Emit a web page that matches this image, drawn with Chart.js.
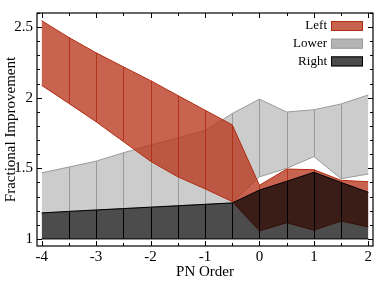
<!DOCTYPE html>
<html>
<head>
<meta charset="utf-8">
<script src="https://cdn.jsdelivr.net/npm/chart.js@4.4.0/dist/chart.umd.min.js"></script>
<style>
  html, body { margin: 0; padding: 0; background: #fff; }
</style>
</head>
<body>
<canvas id="c" width="378" height="299"></canvas>
<script>
// PN order on the x axis
var pnOrder = [-4, -3.5, -3, -2.5, -2, -1.5, -1, -0.5, 0, 0.5, 1, 1.5, 2];

// "Left" band (red)
var leftUpper = [2.546, 2.427, 2.318, 2.219, 2.121, 2.016, 1.912, 1.808, 1.38, 1.495, 1.49, 1.415, 1.405];
var leftLower = [2.088, 1.96, 1.83, 1.69, 1.55, 1.44, 1.355, 1.265, 1.057, 1.115, 1.062, 1.127, 1.085];

// "Lower" band (light grey)
var lowerUpper = [1.468, 1.509, 1.551, 1.61, 1.665, 1.714, 1.768, 1.888, 1.99, 1.899, 1.915, 1.956, 2.02];
var lowerLower = [1.184, 1.195, 1.205, 1.215, 1.225, 1.235, 1.245, 1.255, 1.44, 1.5, 1.583, 1.426, 1.46];

// "Right" band (dark)
var rightUpper = [1.184, 1.195, 1.205, 1.215, 1.225, 1.235, 1.245, 1.255, 1.346, 1.408, 1.472, 1.4, 1.33];
var rightLower = [1, 1, 1, 1, 1, 1, 1, 1, 1, 1, 1, 1, 1];

var xTicks = [-4, -3, -2, -1, 0, 1, 2];
var yTicks = [1, 1.5, 2, 2.5];
var legendNames = ['Left', 'Lower', 'Right'];

var FONT = 'Liberation Serif';

function pts(arr) {
  return pnOrder.map(function (x, i) { return { x: x, y: arr[i] }; });
}

function band(lo, hi, fillColor, edgeColor, vColor, orderBase) {
  return [
    { data: pts(lo), borderColor: edgeColor, borderWidth: 1, pointRadius: 0, fill: false, order: orderBase },
    { data: pts(hi), borderColor: edgeColor, borderWidth: 1, pointRadius: 0, fill: '-1',
      backgroundColor: fillColor, order: orderBase + 1, vline: vColor }
  ];
}

var redFill = 'rgba(182,50,24,0.76)';
var redEdge = 'rgb(178,44,18)';
var greyFill = '#cccccc';
var greyEdge = '#9a9a9a';
var darkFill = 'rgba(0,0,0,0.70)';
var darkEdge = '#000000';

var datasets = []
  .concat(band(rightLower, rightUpper, darkFill, darkEdge, '#000', 0))
  .concat(band(leftLower, leftUpper, redFill, redEdge, 'rgba(178,44,18,0.85)', 2))
  .concat(band(lowerLower, lowerUpper, greyFill, greyEdge, '#9a9a9a', 4));

// vertical lines joining lower and upper edge of each band
var bandLines = {
  id: 'bandLines',
  afterDatasetDraw: function (chart, args) {
    var ds = chart.data.datasets[args.index];
    if (!ds.vline) return;
    var hi = args.meta.data;
    var lo = chart.getDatasetMeta(args.index - 1).data;
    var ctx = chart.ctx;
    ctx.save();
    ctx.strokeStyle = ds.vline;
    ctx.lineWidth = 1;
    for (var i = 1; i < hi.length - 1; i++) {
      var x = Math.round(hi[i].x) + 0.5;
      ctx.beginPath();
      ctx.moveTo(x, hi[i].y);
      ctx.lineTo(x, lo[i].y);
      ctx.stroke();
    }
    ctx.restore();
  }
};

// frame, inward ticks and the legend
var frame = {
  id: 'frame',
  afterDraw: function (chart) {
    var ctx = chart.ctx, a = chart.chartArea;
    var xs = chart.scales.x, ys = chart.scales.y;
    ctx.save();
    ctx.strokeStyle = '#000';
    ctx.lineWidth = 1.2;
    ctx.strokeRect(a.left, a.top, a.right - a.left, a.bottom - a.top);
    ctx.lineWidth = 1;
    function tick(x1, y1, x2, y2) {
      ctx.beginPath(); ctx.moveTo(x1, y1); ctx.lineTo(x2, y2); ctx.stroke();
    }
    var v, p, len;
    for (v = Math.ceil(xs.min * 2) / 2; v <= xs.max + 1e-9; v += 0.5) {
      p = Math.round(xs.getPixelForValue(v)) + 0.5;
      len = Math.abs(v - Math.round(v)) < 1e-6 ? 5 : 3;
      tick(p, a.bottom, p, a.bottom - len);
      tick(p, a.top, p, a.top + len);
    }
    for (v = Math.ceil(ys.min * 10) / 10; v <= ys.max + 1e-9; v += 0.1) {
      p = Math.round(ys.getPixelForValue(v)) + 0.5;
      len = Math.abs(v * 2 - Math.round(v * 2)) < 1e-6 ? 5 : 3;
      tick(a.left, p, a.left + len, p);
      tick(a.right, p, a.right - len, p);
    }

    // legend
    var fills = [redFill, '#b4b4b4', darkFill];
    var edges = [redEdge, greyEdge, darkEdge];
    ctx.font = '13px "' + FONT + '"';
    ctx.textAlign = 'right';
    ctx.textBaseline = 'middle';
    for (var i = 0; i < legendNames.length; i++) {
      var cy = a.top + 13 + i * 17.7;
      var bx = a.right - 42;
      ctx.fillStyle = '#000';
      ctx.fillText(legendNames[i], bx - 4, cy);
      ctx.fillStyle = fills[i];
      ctx.fillRect(bx, cy - 5, 32, 10);
      ctx.strokeStyle = edges[i];
      ctx.strokeRect(bx + 0.5, cy - 4.5, 31, 9);
    }
    ctx.restore();
  }
};

new Chart(document.getElementById('c'), {
  type: 'line',
  data: { datasets: datasets },
  options: {
    responsive: false,
    animation: false,
    layout: { padding: { left: 0, right: 5, top: 7, bottom: 18 } },
    plugins: { legend: { display: false }, tooltip: { enabled: false } },
    elements: { line: { tension: 0 } },
    scales: {
      x: {
        type: 'linear',
        min: -4.085,
        max: 2.085,
        grid: { display: false, drawTicks: false },
        border: { display: false },
        afterBuildTicks: function (s) { s.ticks = xTicks.map(function (v) { return { value: v }; }); },
        afterFit: function (s) { s.height = 35; },
        ticks: { color: '#000', padding: 2, maxRotation: 0, font: { family: FONT, size: 15 },
                 callback: function (v) { return String(v); } },
        title: { display: true, text: 'PN Order', color: '#000', padding: 0, font: { family: FONT, size: 15 } }
      },
      y: {
        type: 'linear',
        min: 0.95,
        max: 2.6,
        grid: { display: false, drawTicks: false },
        border: { display: false },
        afterBuildTicks: function (s) { s.ticks = yTicks.map(function (v) { return { value: v }; }); },
        afterFit: function (s) { s.width = 37; },
        ticks: { color: '#000', padding: 4, font: { family: FONT, size: 15 },
                 callback: function (v) { return String(v); } },
        title: { display: true, text: 'Fractional Improvement', color: '#000', padding: { top: 2, bottom: 0 }, font: { family: FONT, size: 15 } }
      }
    }
  },
  plugins: [bandLines, frame]
});
</script>
</body>
</html>
